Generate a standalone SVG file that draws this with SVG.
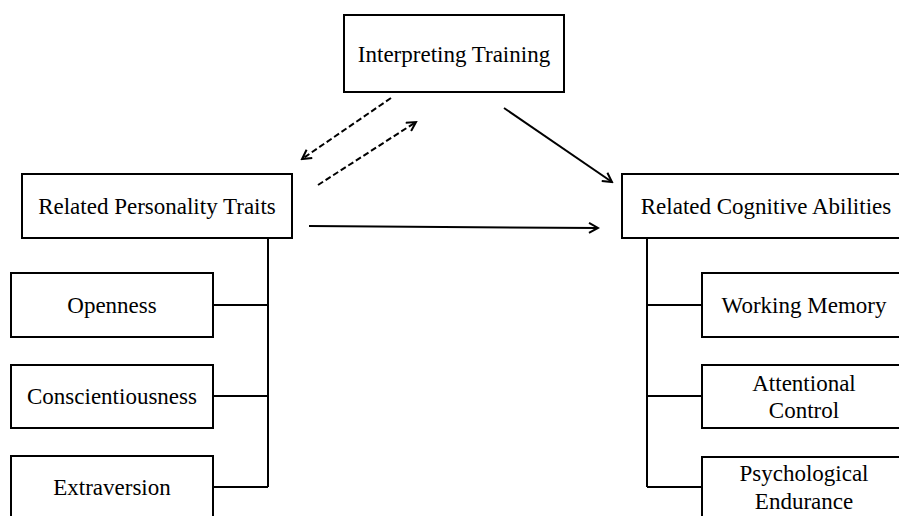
<svg xmlns="http://www.w3.org/2000/svg" width="899" height="516" viewBox="0 0 899 516">
<style>
.box{fill:#fff;stroke:#000;stroke-width:2}
.t{font-family:"Liberation Serif","Times New Roman",serif;font-size:23px;fill:#000;text-anchor:middle}
.ln{fill:none;stroke:#000;stroke-width:2}
.dash{fill:none;stroke:#000;stroke-width:2;stroke-dasharray:6,3}
</style>
<defs>
<marker id="ah" viewBox="0 0 12 12" refX="10" refY="6" markerWidth="12" markerHeight="12" markerUnits="userSpaceOnUse" orient="auto">
<path d="M1,1 L10,6 L1,11" fill="none" stroke="#000" stroke-width="2"/>
</marker>
</defs>
<rect width="899" height="516" fill="#fff"/>
<g id="connectors">
<path class="dash" d="M391,98 L302,159" marker-end="url(#ah)"/>
<path class="dash" d="M318,185 L416,122" marker-end="url(#ah)"/>
<path class="ln" d="M504,108 L612,182" marker-end="url(#ah)"/>
<path class="ln" d="M309,226 L598,228" marker-end="url(#ah)"/>
<path class="ln" d="M268,238 L268,487 M213,305 L268,305 M213,396 L268,396 M213,487 L268,487"/>
<path class="ln" d="M647,238 L647,487 M647,305 L702,305 M647,396 L702,396 M647,487 L702,487"/>
</g>
<g id="interpreting-training">
<rect class="box" x="344" y="15" width="220" height="77"/>
<text class="t" x="454" y="62">Interpreting Training</text>
</g>
<g id="personality-traits">
<rect class="box" x="22" y="174" width="270" height="64"/>
<text class="t" x="157" y="214">Related Personality Traits</text>
</g>
<g id="cognitive-abilities">
<rect class="box" x="622" y="174" width="290" height="64"/>
<text class="t" x="766" y="214">Related Cognitive Abilities</text>
</g>
<g id="openness">
<rect class="box" x="11" y="273" width="202" height="64"/>
<text class="t" x="112" y="313">Openness</text>
</g>
<g id="conscientiousness">
<rect class="box" x="11" y="365" width="202" height="63"/>
<text class="t" x="112" y="404">Conscientiousness</text>
</g>
<g id="extraversion">
<rect class="box" x="11" y="456" width="202" height="70"/>
<text class="t" x="112" y="495">Extraversion</text>
</g>
<g id="working-memory">
<rect class="box" x="702" y="273" width="203" height="64"/>
<text class="t" x="804" y="313">Working Memory</text>
</g>
<g id="attentional-control">
<rect class="box" x="702" y="365" width="203" height="63"/>
<text class="t" x="804" y="391">Attentional</text>
<text class="t" x="804" y="418">Control</text>
</g>
<g id="psychological-endurance">
<rect class="box" x="702" y="457" width="203" height="70"/>
<text class="t" x="804" y="481">Psychological</text>
<text class="t" x="804" y="509">Endurance</text>
</g>
</svg>
